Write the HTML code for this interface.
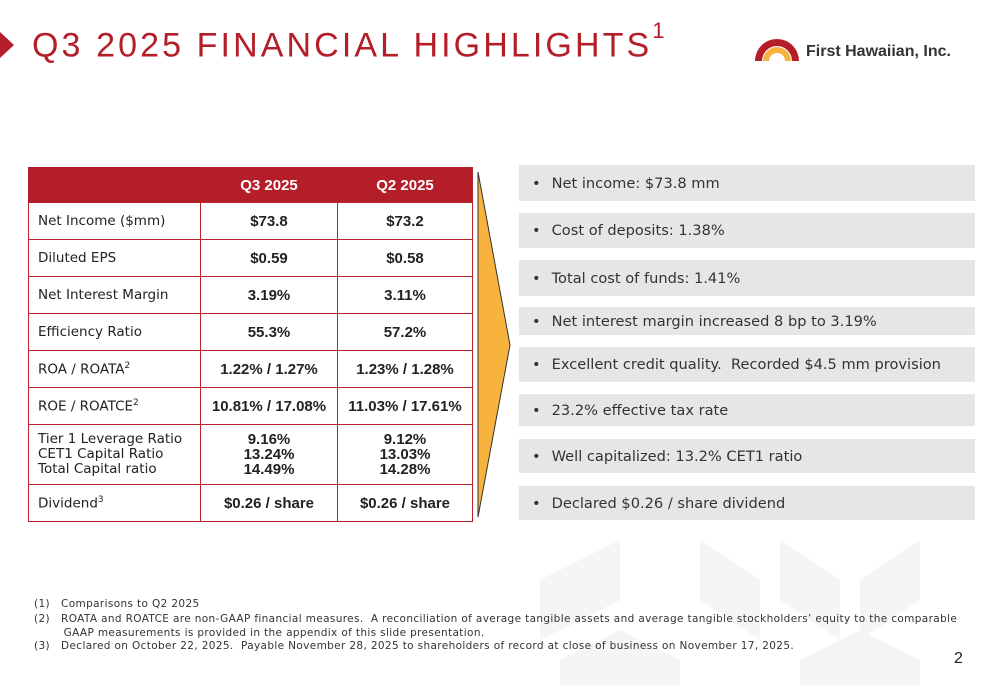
<!DOCTYPE html>
<html><head><meta charset="utf-8"><style>
body{margin:0;width:1000px;height:685px;background:#fff;position:relative;overflow:hidden;font-family:"Liberation Sans",sans-serif;}
.abs{position:absolute;}
table{border-collapse:collapse;position:absolute;left:28px;top:167px;width:445px;font-size:15px;color:#222;}
td,th{border:1px solid #b5252a;padding:0;}
th{background:#b41e28;color:#fff;font-weight:bold;height:34px;}
td.l{padding-left:9px;text-align:left;font-family:"DejaVu Sans",sans-serif;font-size:13.5px;}
td.v{text-align:center;font-weight:bold;}
.bar{position:absolute;left:519px;width:456px;background:#e6e6e6;font-family:"DejaVu Sans",sans-serif;font-size:14.6px;color:#333;display:flex;align-items:center;}
.bar span{margin-left:13px;margin-right:11px;}
.fn{position:absolute;left:34px;font-family:"DejaVu Sans",sans-serif;font-size:10.5px;letter-spacing:0.36px;color:#333;}
</style></head><body>
<svg class="abs" style="left:0;top:0" width="1000" height="685">
<g fill="#f5f5f5">
<polygon points="540,580 620,540 620,600 540,640"/>
<polygon points="700,540 760,580 760,640 700,600"/>
<polygon points="780,540 840,580 840,640 780,600"/>
<polygon points="860,580 920,540 920,600 860,640"/>
<polygon points="560,660 620,630 680,660 680,685 560,685"/>
<polygon points="800,660 860,630 920,660 920,685 800,685"/>
</g>
<polygon points="0,32 14,45 0,58" fill="#b41e28"/>
<polygon points="478,172 510,345 478,517" fill="#f8b33f" stroke="#333" stroke-width="1"/>
<path d="M755,61 A22,22 0 0 1 799,61 L792,61 A15,15 0 0 0 762,61Z" fill="#b41e28"/>
<path d="M763,61 A14,14 0 0 1 791,61 L785,61 A8,8 0 0 0 769,61Z" fill="#f8b33f"/>
</svg>
<div class="abs" style="left:32px;top:24px;font-size:34px;color:#b41e28;letter-spacing:3.1px">Q3 2025 FINANCIAL HIGHLIGHTS<sup style="font-size:22px;position:relative;top:-6px">1</sup></div>
<div class="abs" style="left:806px;top:43px;font-size:16px;font-weight:bold;color:#333">First Hawaiian, Inc.</div>
<table>
<tr><th style="width:171px;border-color:#b41e28"></th><th style="width:136px">Q3 2025</th><th>Q2 2025</th></tr>
<tr style="height:37px"><td class="l">Net Income ($mm)</td><td class="v">$73.8</td><td class="v">$73.2</td></tr>
<tr style="height:37px"><td class="l">Diluted EPS</td><td class="v">$0.59</td><td class="v">$0.58</td></tr>
<tr style="height:37px"><td class="l">Net Interest Margin</td><td class="v">3.19%</td><td class="v">3.11%</td></tr>
<tr style="height:37px"><td class="l">Efficiency Ratio</td><td class="v">55.3%</td><td class="v">57.2%</td></tr>
<tr style="height:37px"><td class="l">ROA / ROATA<sup style="font-size:9px">2</sup></td><td class="v">1.22% / 1.27%</td><td class="v">1.23% / 1.28%</td></tr>
<tr style="height:37px"><td class="l">ROE / ROATCE<sup style="font-size:9px">2</sup></td><td class="v">10.81% / 17.08%</td><td class="v">11.03% / 17.61%</td></tr>
<tr style="height:60px"><td class="l" style="line-height:15px">Tier 1 Leverage Ratio<br>CET1 Capital Ratio<br>Total Capital ratio</td><td class="v" style="line-height:15px">9.16%<br>13.24%<br>14.49%</td><td class="v" style="line-height:15px">9.12%<br>13.03%<br>14.28%</td></tr>
<tr style="height:37px"><td class="l">Dividend<sup style="font-size:9px">3</sup></td><td class="v">$0.26 / share</td><td class="v">$0.26 / share</td></tr>
</table>
<div class="bar" style="top:165px;height:36px"><span>•</span>Net income: $73.8 mm</div>
<div class="bar" style="top:213px;height:35px"><span>•</span>Cost of deposits: 1.38%</div>
<div class="bar" style="top:260px;height:36px"><span>•</span>Total cost of funds: 1.41%</div>
<div class="bar" style="top:307px;height:28px"><span>•</span>Net interest margin increased 8 bp to 3.19%</div>
<div class="bar" style="top:347px;height:35px"><span>•</span>Excellent credit quality.&nbsp; Recorded $4.5 mm provision</div>
<div class="bar" style="top:394px;height:32px"><span>•</span>23.2% effective tax rate</div>
<div class="bar" style="top:439px;height:34px"><span>•</span>Well capitalized: 13.2% CET1 ratio</div>
<div class="bar" style="top:486px;height:34px"><span>•</span>Declared $0.26 / share dividend</div>
<div class="fn" style="top:598px">(1)&nbsp;&nbsp; Comparisons to Q2 2025</div>
<div class="fn" style="top:612px;width:960px;line-height:14px">(2)&nbsp;&nbsp; ROATA and ROATCE are non-GAAP financial measures.&nbsp; A reconciliation of average tangible assets and average tangible stockholders’ equity to the comparable<br>&nbsp;&nbsp;&nbsp;&nbsp;&nbsp;&nbsp;&nbsp; GAAP measurements is provided in the appendix of this slide presentation.</div>
<div class="fn" style="top:640px">(3)&nbsp;&nbsp; Declared on October 22, 2025.&nbsp; Payable November 28, 2025 to shareholders of record at close of business on November 17, 2025.</div>
<div class="abs" style="left:954px;top:650px;font-size:16px;color:#222">2</div>
</body></html>
